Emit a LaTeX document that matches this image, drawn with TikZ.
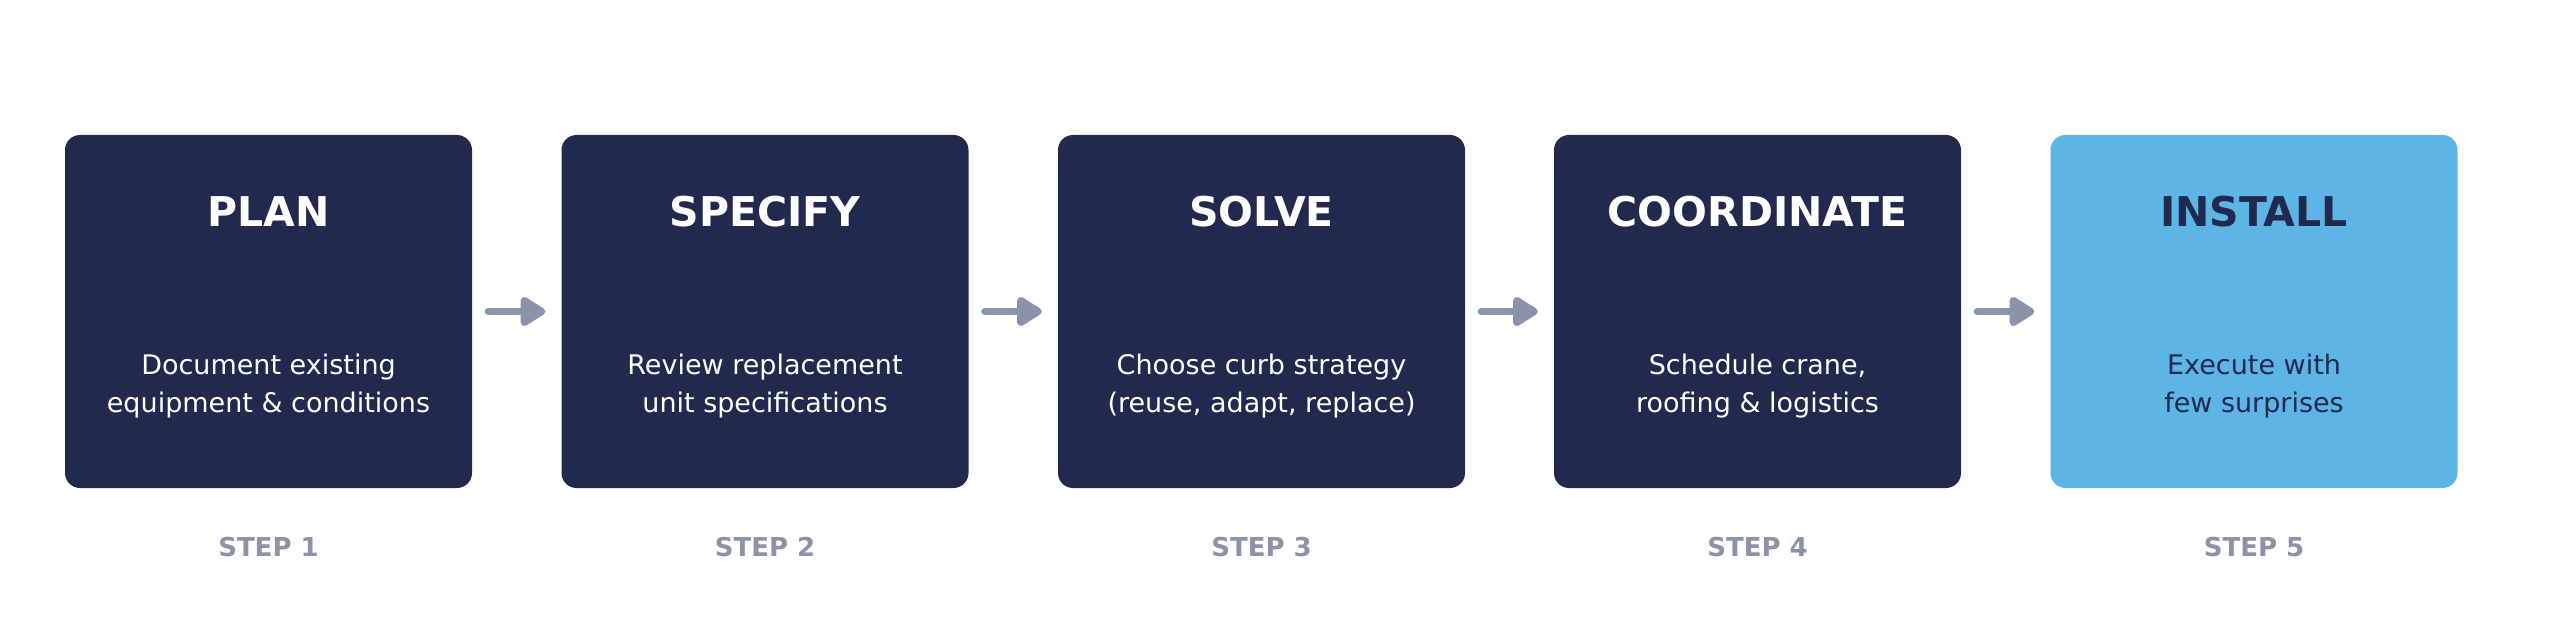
\documentclass[tikz,border=0pt]{standalone}
\usepackage{fontspec}
\setmainfont{DejaVu Sans}
\usetikzlibrary{arrows.meta}
\definecolor{navy}{HTML}{212A4E}
\definecolor{skyb}{HTML}{5CB5E5}
\definecolor{greyc}{HTML}{8A93A8}
\begin{document}
\begin{tikzpicture}[x=1pt,y=-1pt,
  card/.style={rectangle, rounded corners=15pt, minimum width=407pt, minimum height=353pt, inner sep=0pt, fill=navy},
  lastcard/.style={card, fill=skyb},
  ttl/.style={font=\fontsize{41}{49}\selectfont\bfseries, text=white},
  body/.style={font=\fontsize{27}{38}\selectfont, text=white, align=center},
  steplbl/.style={font=\fontsize{26}{30}\selectfont\bfseries, text=greyc},
  flow/.style={draw=greyc, line width=7pt, line cap=round, -{Triangle[length=28pt,width=33pt,round]}}
]
\useasboundingbox (0,0) rectangle (2560,639);
\node[card] (b1) at (268.5,311.5) {};
\node[card] (b2) at (765,311.5) {};
\node[card] (b3) at (1261.5,311.5) {};
\node[card] (b4) at (1757.5,311.5) {};
\node[lastcard] (b5) at (2254,311.5) {};

\node[ttl] (t1) at (268.5,212) {PLAN};
\node[ttl] (t2) at (765,212) {SPECIFY};
\node[ttl] (t3) at (1261.5,212) {SOLVE};
\node[ttl] (t4) at (1757.5,212) {COORDINATE};
\node[ttl, text=navy] (t5) at (2254,212) {INSTALL};

\node[body] (d1) at (268.5,386.5) {Document existing\\equipment \& conditions};
\node[body] (d2) at (765,386.5) {Review replacement\\unit specifications};
\node[body] (d3) at (1261.5,386.5) {Choose curb strategy\\(reuse, adapt, replace)};
\node[body] (d4) at (1757.5,386.5) {Schedule crane,\\roofing \& logistics};
\node[body, text=navy] (d5) at (2254,386.5) {Execute with\\few surprises};

\node[steplbl] (s1) at (268.5,547) {STEP 1};
\node[steplbl] (s2) at (765,547) {STEP 2};
\node[steplbl] (s3) at (1261.5,547) {STEP 3};
\node[steplbl] (s4) at (1757.5,547) {STEP 4};
\node[steplbl] (s5) at (2254,547) {STEP 5};

\draw[flow] ([xshift=16pt]b1.east) -- ([xshift=-16pt]b2.west);
\draw[flow] ([xshift=16pt]b2.east) -- ([xshift=-16pt]b3.west);
\draw[flow] ([xshift=16pt]b3.east) -- ([xshift=-16pt]b4.west);
\draw[flow] ([xshift=16pt]b4.east) -- ([xshift=-16pt]b5.west);
\end{tikzpicture}
\end{document}
